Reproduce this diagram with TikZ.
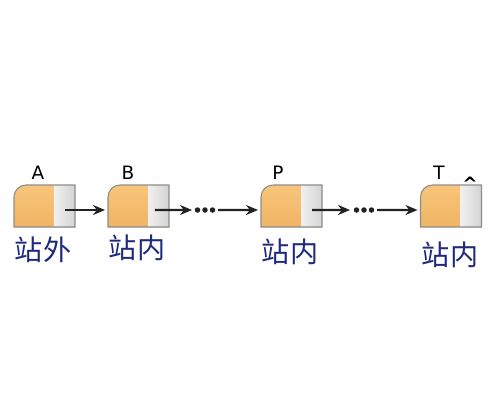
\documentclass[tikz,border=0pt]{standalone}
\usepackage{fontspec}
\newfontfamily\cjkfont{Noto Sans CJK SC}
\newfontfamily\tagfont{DejaVu Sans}
\usetikzlibrary{arrows.meta}

\definecolor{orangetop}{HTML}{F8C57A}
\definecolor{orangebot}{HTML}{F0B464}
\definecolor{grayleft}{HTML}{F0F0F0}
\definecolor{grayright}{HTML}{D4D4D4}
\definecolor{celledge}{HTML}{8C8C8C}
\definecolor{stationblue}{HTML}{1F2A7C}
\definecolor{linkcol}{HTML}{222222}

\tikzset{
  cell/.style={minimum width=1.22cm, minimum height=0.84cm, inner sep=0pt, outer sep=0pt},
  tag/.style={font=\tagfont\fontsize{10.5}{12}\selectfont, anchor=base, inner sep=0pt},
  station/.style={font=\cjkfont\fontsize{16}{18}\selectfont, text=stationblue, inner sep=0pt},
  link/.style={line width=1.4pt, draw=linkcol, -{Stealth[length=0.24cm,width=0.2cm]}},
  dotsbox/.style={minimum width=0.44cm, minimum height=0.12cm, inner sep=0pt, outer sep=0pt,
    path picture={\foreach \i in {-1,0,1}
      \fill[linkcol] ([xshift=\i*0.15cm]path picture bounding box.center) circle (0.055cm);}}
}

\begin{document}
\begin{tikzpicture}[x=0.02cm, y=-0.02cm]
  \useasboundingbox (0,0) rectangle (500,400);

  % list cells
  \node[cell] (A) at (44.5,206) {};
  \node[cell] (B) at (138.5,206) {};
  \node[cell] (P) at (291.5,206) {};
  \node[cell] (T) at (451,206) {};

  \foreach \n in {A,B,P,T}{
    \shade[top color=orangetop, bottom color=orangebot]
      (\n.south west) -- ([yshift=-0.24cm]\n.north west)
      arc[start angle=180, end angle=90, radius=0.24cm]
      -- ([xshift=0.8cm]\n.north west) -- ([xshift=0.8cm]\n.south west) -- cycle;
    \shade[left color=grayleft, right color=grayright]
      ([xshift=0.8cm]\n.south west) rectangle (\n.north east);
    \draw[celledge, line width=0.6pt]
      (\n.south west) -- ([yshift=-0.24cm]\n.north west)
      arc[start angle=180, end angle=90, radius=0.24cm]
      -- (\n.north east) -- (\n.south east) -- cycle;
  }

  % names above
  \node[tag] (tA) at (38,179) {A};
  \node[tag] (tB) at (128,179) {B};
  \node[tag] (tP) at (278,179) {P};
  \node[tag] (tT) at (439,179) {T};
  \node[tag, font=\tagfont\bfseries\fontsize{10.5}{12}\selectfont] (hat) at (470,190) {\textasciicircum};

  % station labels
  \node[station] (sA) at (43,250) {站外};
  \node[station] (sB) at (137,248) {站内};
  \node[station] (sP) at (290,252) {站内};
  \node[station] (sT) at (450,255) {站内};

  % dots
  \node[dotsbox] (d1) at (205,210) {};
  \node[dotsbox] (d2) at (364,210) {};

  % links
  \draw[link, shorten >=0.06cm] ([xshift=-0.2cm,yshift=-0.08cm]A.east) -- ([yshift=-0.08cm]B.west);
  \draw[link, shorten >=0.04cm] ([xshift=-0.28cm,yshift=-0.08cm]B.east) -- (d1.west);
  \draw[link, shorten >=0.06cm] ([xshift=0.04cm]d1.east) -- ([yshift=-0.08cm]P.west);
  \draw[link, shorten >=0.06cm] ([xshift=-0.2cm,yshift=-0.08cm]P.east) -- (d2.west);
  \draw[link, shorten >=0.06cm] ([xshift=0.04cm]d2.east) -- ([yshift=-0.08cm]T.west);
\end{tikzpicture}
\end{document}
